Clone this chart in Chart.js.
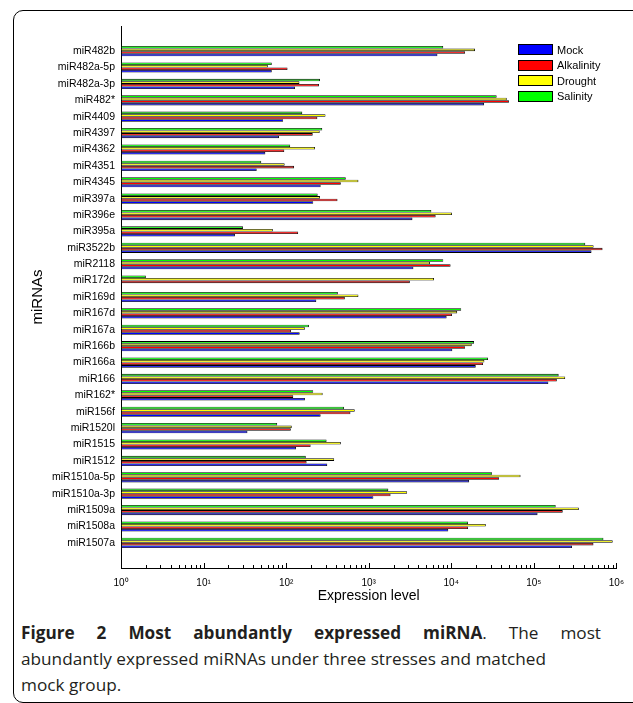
<!DOCTYPE html>
<html>
<head>
<meta charset="utf-8">
<script src="https://cdn.jsdelivr.net/npm/chart.js@4.4.1/dist/chart.umd.min.js"></script>
<style>
body { margin: 0; background: #fff; width: 633px; height: 703px; overflow: hidden; position: relative; }
#frame { position: absolute; left: 13px; top: 10px; width: 700px; height: 691px; border: 1px solid #000; border-radius: 10px; }
#wrap { position: absolute; left: 0; top: 0; }
#legend { position: absolute; left: 518px; top: 42px; font-family: "Liberation Sans", Arial, sans-serif; font-size: 11px; color: #000; }
.item { height: 15.5px; display: flex; align-items: center; }
.box { width: 33px; height: 9px; border: 1px solid #000; margin-right: 4px; }
#caption { position: absolute; left: 21px; top: 620px; width: 580px; font-family: "Open Sans", sans-serif; font-size: 17.2px; line-height: 26px; color: #231f20; }
#caption .l1 { text-align: justify; text-align-last: justify; }
#caption b { font-weight: 700; }
</style>
</head>
<body>
<div id="frame"></div>
<div id="wrap"><canvas id="expr-chart" width="633" height="615"></canvas></div>
<div id="legend"></div>
<div id="caption">
  <div class="l1"><b>Figure 2 Most abundantly expressed miRNA</b>. The most</div>
  <div>abundantly expressed miRNAs under three stresses and matched</div>
  <div>mock group.</div>
</div>
<script>
// categories, top to bottom as in the figure
const mirnas = ['miR482b', 'miR482a-5p', 'miR482a-3p', 'miR482*', 'miR4409', 'miR4397', 'miR4362',
    'miR4351', 'miR4345', 'miR397a', 'miR396e', 'miR395a', 'miR3522b', 'miR2118', 'miR172d',
    'miR169d', 'miR167d', 'miR167a', 'miR166b', 'miR166a', 'miR166', 'miR162*', 'miR156f',
    'miR1520l', 'miR1515', 'miR1512', 'miR1510a-5p', 'miR1510a-3p', 'miR1509a', 'miR1508a', 'miR1507a'];

const mock = [6800, 67, 128, 25000, 92, 82, 56, 44, 262, 213, 3390, 24, 500000, 3480, null,
    232, 8790, 146, 10300, 19800, 150000, 169, 262, 34, 132, 315, 16500, 1140, 111000, 9200, 290000];
const alkalinity = [14700, 104, 250, 50000, 239, 210, 95, 125, 460, 419, 6470, 140, 680000, 9820, 3150,
    514, 10200, 115, 14700, 24300, 190000, 122, 601, 114, 198, 177, 37900, 1840, 224000, 16000, 528000];
const drought = [19400, 60, 145, 47000, 300, 255, 224, 96, 751, 257, 10200, 69, 530000, 5530, 6180,
    751, 11800, 169, 17700, 25200, 240000, 277, 678, 117, 460, 382, 69100, 2920, 351000, 26200, 903000];
const salinity = [8000, 67, 257, 35500, 157, 274, 112, 50, 528, 241, 5740, 30, 420000, 8010, 2,
    423, 13200, 189, 18900, 27900, 200000, 213, 504, 78, 309, 173, 31200, 1730, 184000, 16000, 697000];

const seriesNames = ['Mock', 'Alkalinity', 'Drought', 'Salinity'];
const seriesColors = ['#0000ff', '#ff0000', '#ffff00', '#00ff00'];
const seriesValues = [mock, alkalinity, drought, salinity];

const xMajorValues = [1, 10, 100, 1000, 10000, 100000, 1000000];
const xTickLabels = ['10⁰', '10¹', '10²', '10³', '10⁴', '10⁵', '10⁶'];

// minor ticks 2..9 in every decade
const xTickValues = [];
xMajorValues.forEach(function (m, k) {
    xTickValues.push(m);
    if (k < xMajorValues.length - 1) {
        for (let s = 2; s <= 9; s++) xTickValues.push(m * s);
    }
});

Chart.defaults.font.family = "'Liberation Sans', Arial, sans-serif";
Chart.defaults.color = '#000';

// position 31 is the top row, 1 the bottom row
function rowPos(i) {
    return mirnas.length - i;
}

// Salinity drawn first so it sits on top of each group, Mock at the bottom
const datasets = [];
for (let s = seriesNames.length - 1; s >= 0; s--) {
    datasets.push({
        label: seriesNames[s],
        data: mirnas.map((name, i) => ({ x: seriesValues[s][i], y: rowPos(i) })),
        backgroundColor: seriesColors[s],
        borderColor: '#000',
        borderWidth: 0.8,
        borderSkipped: false,
        categoryPercentage: 0.62,
        barPercentage: 1.0
    });
}

// MATLAB style tick marks pointing into the plot
const innerTicks = {
    id: 'innerTicks',
    afterDraw(chart) {
        const ctx = chart.ctx;
        const area = chart.chartArea;
        const x = chart.scales.x;
        ctx.save();
        ctx.strokeStyle = '#000';
        ctx.lineWidth = 1;
        x.ticks.forEach(t => {
            const px = Math.round(x.getPixelForValue(t.value)) + 0.5;
            const len = xMajorValues.includes(t.value) ? 5 : 3;
            ctx.beginPath();
            ctx.moveTo(px, area.bottom);
            ctx.lineTo(px, area.bottom - len);
            ctx.stroke();
        });
        ctx.restore();
    }
};

const exprCanvas = document.getElementById('expr-chart');
const exprChart = new Chart(exprCanvas, {
    type: 'bar',
    data: { datasets: datasets },
    options: {
        indexAxis: 'y',
        responsive: false,
        animation: false,
        layout: { padding: { top: 26, right: 14, left: 0, bottom: 0 } },
        scales: {
            x: {
                type: 'logarithmic',
                min: 1,
                max: 1000000,
                afterBuildTicks: scale => {
                    scale.ticks = xTickValues.map(v => ({ value: v }));
                },
                afterFit: scale => { scale.height = 47; },
                ticks: {
                    autoSkip: false,
                    maxRotation: 0,
                    padding: 9,
                    font: { size: 10 },
                    callback: value => {
                        const k = xMajorValues.indexOf(value);
                        return k >= 0 ? xTickLabels[k] : '';
                    }
                },
                grid: { display: false, drawTicks: false },
                border: { display: true, color: '#000', width: 1 },
                title: {
                    display: true,
                    text: 'Expression level',
                    font: { size: 14 },
                    padding: { top: 0, bottom: 10 }
                }
            },
            y: {
                type: 'linear',
                min: 0,
                max: mirnas.length + 1,
                afterBuildTicks: scale => {
                    scale.ticks = mirnas.map((name, i) => ({ value: rowPos(i) }));
                },
                afterFit: scale => { scale.width = 121; },
                ticks: {
                    autoSkip: false,
                    padding: 6,
                    font: { size: 10.5 },
                    callback: value => mirnas[mirnas.length - value] || ''
                },
                grid: { display: false, drawTicks: false },
                border: { display: true, color: '#000', width: 1 },
                title: {
                    display: true,
                    text: 'miRNAs',
                    font: { size: 15 },
                    padding: { top: 29, bottom: 0 }
                }
            }
        },
        plugins: {
            legend: { display: false },
            tooltip: { enabled: false }
        }
    },
    plugins: [innerTicks]
});

// legend inside the plot, top right
const legendEl = document.getElementById('legend');
seriesNames.forEach((name, s) => {
    const item = document.createElement('div');
    item.className = 'item';
    const box = document.createElement('span');
    box.className = 'box';
    box.style.background = seriesColors[s];
    const txt = document.createElement('span');
    txt.textContent = name;
    item.appendChild(box);
    item.appendChild(txt);
    legendEl.appendChild(item);
});
</script>
</body>
</html>
